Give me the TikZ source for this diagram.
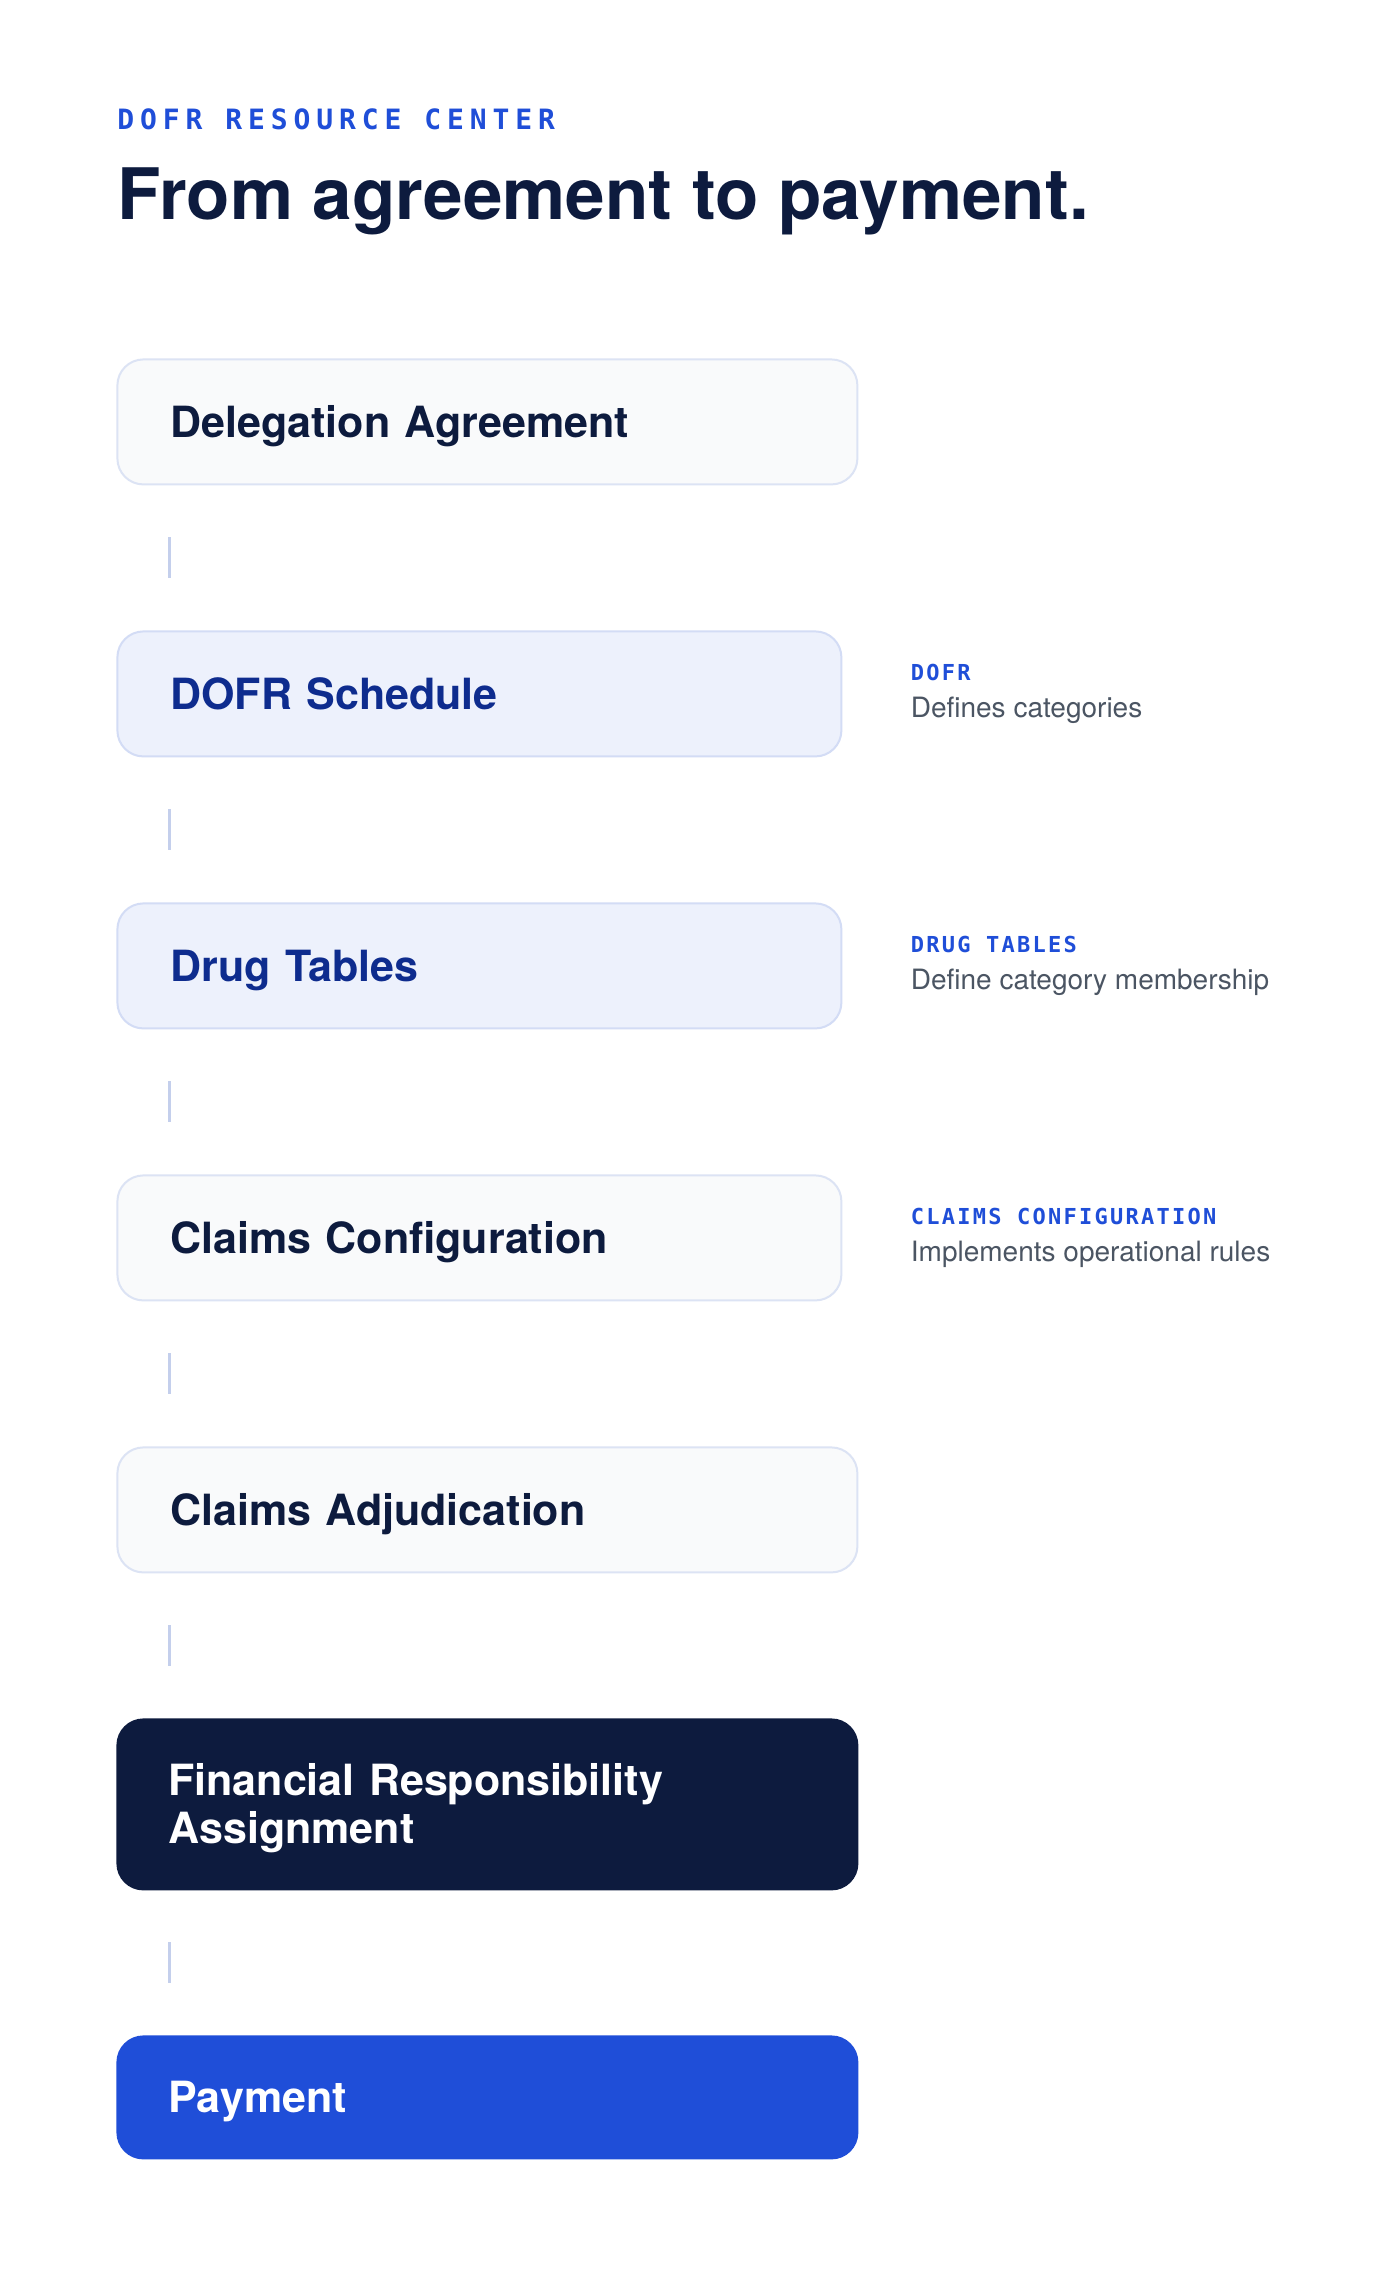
\documentclass[tikz,border=0pt]{standalone}
\usepackage{fontspec}
\setmainfont{TeX Gyre Heros}
\newfontfamily\kickerfont{DejaVu Sans Mono}[LetterSpace=21.1]
\newfontfamily\tagfont{DejaVu Sans Mono}[LetterSpace=10.3]
\usepackage{tikz}
\usetikzlibrary{matrix,positioning}

\definecolor{ink}{HTML}{0D1B3E}
\definecolor{brand}{HTML}{1F4ED8}
\definecolor{deep}{HTML}{0E2C8E}
\definecolor{softfill}{HTML}{F9FAFB}
\definecolor{softline}{HTML}{DCE3F4}
\definecolor{tintfill}{HTML}{EDF1FC}
\definecolor{tintline}{HTML}{D3DCF5}
\definecolor{linkcol}{HTML}{C4CFEC}
\definecolor{notegray}{HTML}{4B5563}

\tikzstyle{stage} = [rounded corners=13pt, inner xsep=26.5pt, inner ysep=0pt, outer sep=0pt,
	line width=1pt, align=left, text height=15.5pt, text depth=0pt,
	font=\fontsize{21.5pt}{24pt}\selectfont\bfseries]
\tikzstyle{softstage} = [stage, draw=softline, fill=softfill, text=ink, minimum height=62.5pt, text width=317pt]
\tikzstyle{softnarrow} = [softstage, text width=309pt]
\tikzstyle{tintstage} = [stage, draw=tintline, fill=tintfill, text=deep, minimum height=62.5pt, text width=309pt]
\tikzstyle{inkstage} = [stage, draw=ink, fill=ink, text=white, minimum height=85pt, text width=319pt, inner xsep=25.5pt, text depth=24pt]
\tikzstyle{paystage} = [stage, draw=brand, fill=brand, text=white, minimum height=61pt, text width=319pt, inner xsep=25.5pt]
\tikzstyle{link} = [draw=linkcol, line width=1.5pt, shorten <=26.5pt, shorten >=26.5pt]
\tikzstyle{kicker} = [inner sep=0pt, text=brand, font=\kickerfont\bfseries\fontsize{14pt}{16pt}\selectfont]
\tikzstyle{headline} = [inner sep=0pt, text=ink, font=\bfseries\fontsize{35.5pt}{40pt}\selectfont]
\tikzstyle{tagtext} = [inner sep=0pt, anchor=base west, text=brand, font=\tagfont\bfseries\fontsize{11pt}{13pt}\selectfont]
\tikzstyle{note} = [inner sep=0pt, anchor=base west, text=notegray, font=\fontsize{14pt}{16pt}\selectfont]

\begin{document}
\begin{tikzpicture}
	\fill[white] (0,0) rectangle (700pt,-1146pt);
	\useasboundingbox (0,0) rectangle (700pt,-1146pt);

	\node[kicker, anchor=base west] (kicker) at (58.5pt,-64.5pt) {DOFR RESOURCE CENTER};
	\node[headline, anchor=base west] (headline) at (58.5pt,-109.5pt) {From agreement to payment.};

	\matrix[matrix of nodes,
	anchor=north west,
	inner sep=0pt,
	row sep=72.5pt,
	column 1/.style={anchor=west}]
	(M) at (58pt,-179pt)
	{
		|[softstage]| Delegation Agreement \\
		|[tintstage]| DOFR Schedule \\
		|[tintstage]| Drug Tables \\
		|[softnarrow]| Claims Configuration \\
		|[softstage]| Claims Adjudication \\
		|[inkstage]| Financial Responsibility \mbox{Assignment} \\
		|[paystage]| Payment \\
	};

	\foreach \a/\b in {1/2,2/3,3/4,4/5,5/6,6/7}
		\draw[link] ([xshift=26pt]M-\a-1.south west) -- ([xshift=26pt]M-\b-1.north west);

	% side notes
	\node[tagtext] (dofrTag) at ([xshift=34.5pt,yshift=6.5pt]M-2-1.east) {DOFR};
	\node[note] (dofrNote) at ([xshift=34.5pt,yshift=-12pt]M-2-1.east) {Defines categories};
	\node[tagtext] (drugTag) at ([xshift=34.5pt,yshift=6.5pt]M-3-1.east) {DRUG TABLES};
	\node[note] (drugNote) at ([xshift=34.5pt,yshift=-12pt]M-3-1.east) {Define category membership};
	\node[tagtext] (claimsTag) at ([xshift=34.5pt,yshift=6.5pt]M-4-1.east) {CLAIMS CONFIGURATION};
	\node[note] (claimsNote) at ([xshift=34.5pt,yshift=-12pt]M-4-1.east) {Implements operational rules};
\end{tikzpicture}
\end{document}
